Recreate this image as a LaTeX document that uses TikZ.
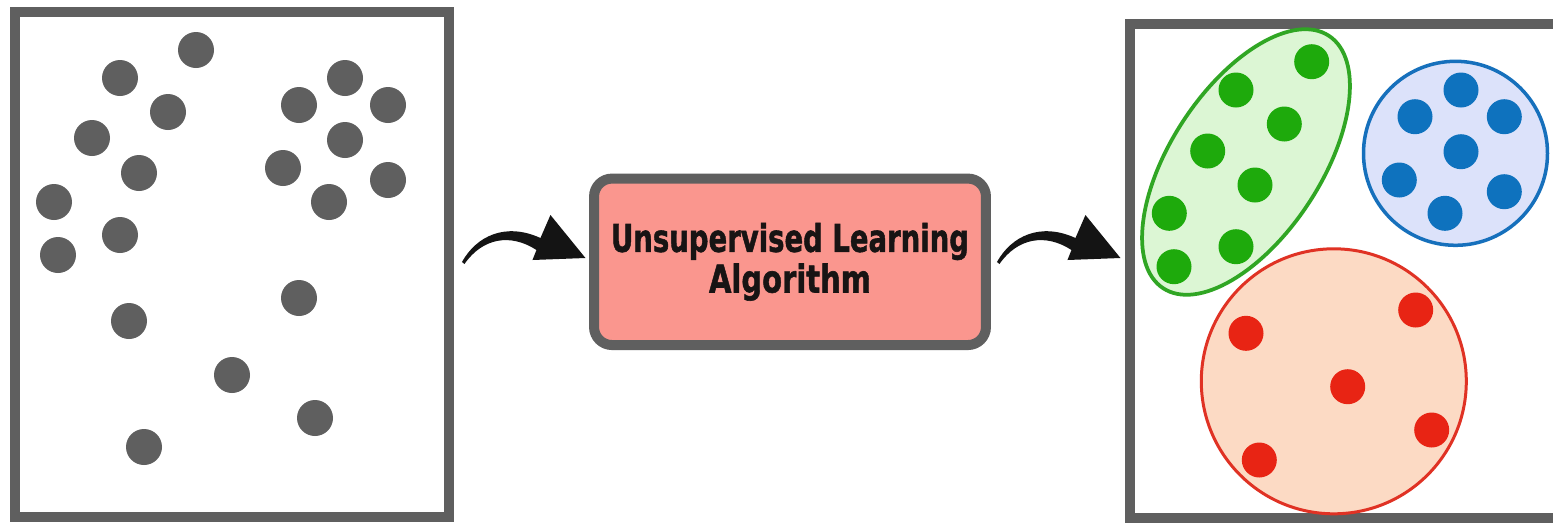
\documentclass[tikz,border=0pt]{standalone}
\usepackage{fontspec}
\usetikzlibrary{arrows.meta}
\newfontfamily\boxfont{DejaVu Sans}[BoldFeatures={FakeBold=1.5}]
\definecolor{framegray}{RGB}{95,95,95}
\definecolor{dotgray}{RGB}{95,95,95}
\definecolor{boxred}{RGB}{250,150,142}
\definecolor{textdark}{RGB}{24,20,20}
\definecolor{gfill}{RGB}{220,246,212}
\definecolor{gline}{RGB}{48,166,36}
\definecolor{gdot}{RGB}{30,170,12}
\definecolor{bfill}{RGB}{220,226,250}
\definecolor{bline}{RGB}{22,112,188}
\definecolor{bdot}{RGB}{14,114,190}
\definecolor{rfill}{RGB}{252,218,196}
\definecolor{rline}{RGB}{224,50,36}
\definecolor{rdot}{RGB}{232,36,20}
\tikzset{
  frame/.style={draw=framegray, line width=0.2cm, inner sep=0pt, fill=white},
  openframe/.style={inner sep=0pt, fill=white},
  frameline/.style={draw=framegray, line width=0.2cm},
  algobox/.style={draw=framegray, line width=0.2cm, fill=boxred, rounded corners=0.36cm,
    minimum width=7.84cm, minimum height=3.33cm, inner sep=0pt, align=center, text=textdark,
    font={\boxfont\bfseries\fontsize{20}{23.16pt}\selectfont}},
  flowfill/.style={fill=black!92},
}
% curved arrow shape, drawn from its tail point to its tip
\newcommand{\curvedarrow}[1]{%
  \begin{scope}[shift={(#1)}]
    \fill[flowfill] (0,0) .. controls (14.5,26) and (43.5,40) .. (78.5,24)
      -- (88.5,47) -- (123.5,4) -- (70.5,2) -- (74.5,12)
      .. controls (48.5,29) and (20.5,24) .. (2.5,-2) -- cycle;
  \end{scope}}
\begin{document}
\begin{tikzpicture}[x=0.02cm,y=0.02cm]
\useasboundingbox (0,-525) rectangle (1553,0);
\clip (0,-525) rectangle (1553,0);
\fill[white] (0,-525) rectangle (1553,0);
% frames
\node[frame, minimum width=8.69cm, minimum height=10.1cm] (L) at (232.25,-264.5) {};
\node[openframe, minimum width=8.79cm, minimum height=9.88cm] (R) at (1350.25,-271) {};
\draw[frameline] (R.north east) -- (R.north west) -- (R.south west) -- (R.south east);
% algorithm box
\node[algobox] (B) at (790,-261.8)
  {\resizebox{7.16cm}{0.58cm}{Unsupervised Learning}\\\resizebox{3.24cm}{0.58cm}{Algorithm}};
% arrows
\coordinate (a1) at ([shift={(7.5,2.5)}]L.east);
\coordinate (a2) at ([shift={(6,-0.2)}]B.east);
\curvedarrow{a1}
\curvedarrow{a2}
% unlabelled points
\foreach \px/\py in {196/50,120/78,168/112,92/138,139/173,54/202,120/235,58/255,
  299/105,345/78,388/105,345/140,283/168,388/180,329/202,299/298,129/321,232/375,315/418,144/447}
  \fill[dotgray] (\px,-\py) circle [radius=18];
% clusters
\draw[fill=rfill, draw=rline, line width=0.06cm] (1333.8,-381.3) circle [radius=132.5];
\draw[fill=bfill, draw=bline, line width=0.07cm] (1455.5,-153.3) circle [radius=92];
\draw[fill=gfill, draw=gline, line width=0.075cm, rotate around={56.7:(1246,-162)}]
  (1246,-162) ellipse [x radius=151, y radius=75];
\foreach \px/\py in {1311.7/61.7,1236/90,1284.3/124,1207.7/151,1255/185,1169.3/213.3,1236/246.7,1174/266.7}
  \fill[fill=gdot] (\px,-\py) circle [radius=17.5];
\foreach \px/\py in {1461/90,1415/116.7,1504.3/116.7,1461/151.7,1399.3/180,1504.3/191.7,1445/213.3}
  \fill[fill=bdot] (\px,-\py) circle [radius=17.5];
\foreach \px/\py in {1246/333.3,1415.7/310,1347.7/386.7,1431.7/430,1259.3/460}
  \fill[fill=rdot] (\px,-\py) circle [radius=17.5];
\end{tikzpicture}
\end{document}
